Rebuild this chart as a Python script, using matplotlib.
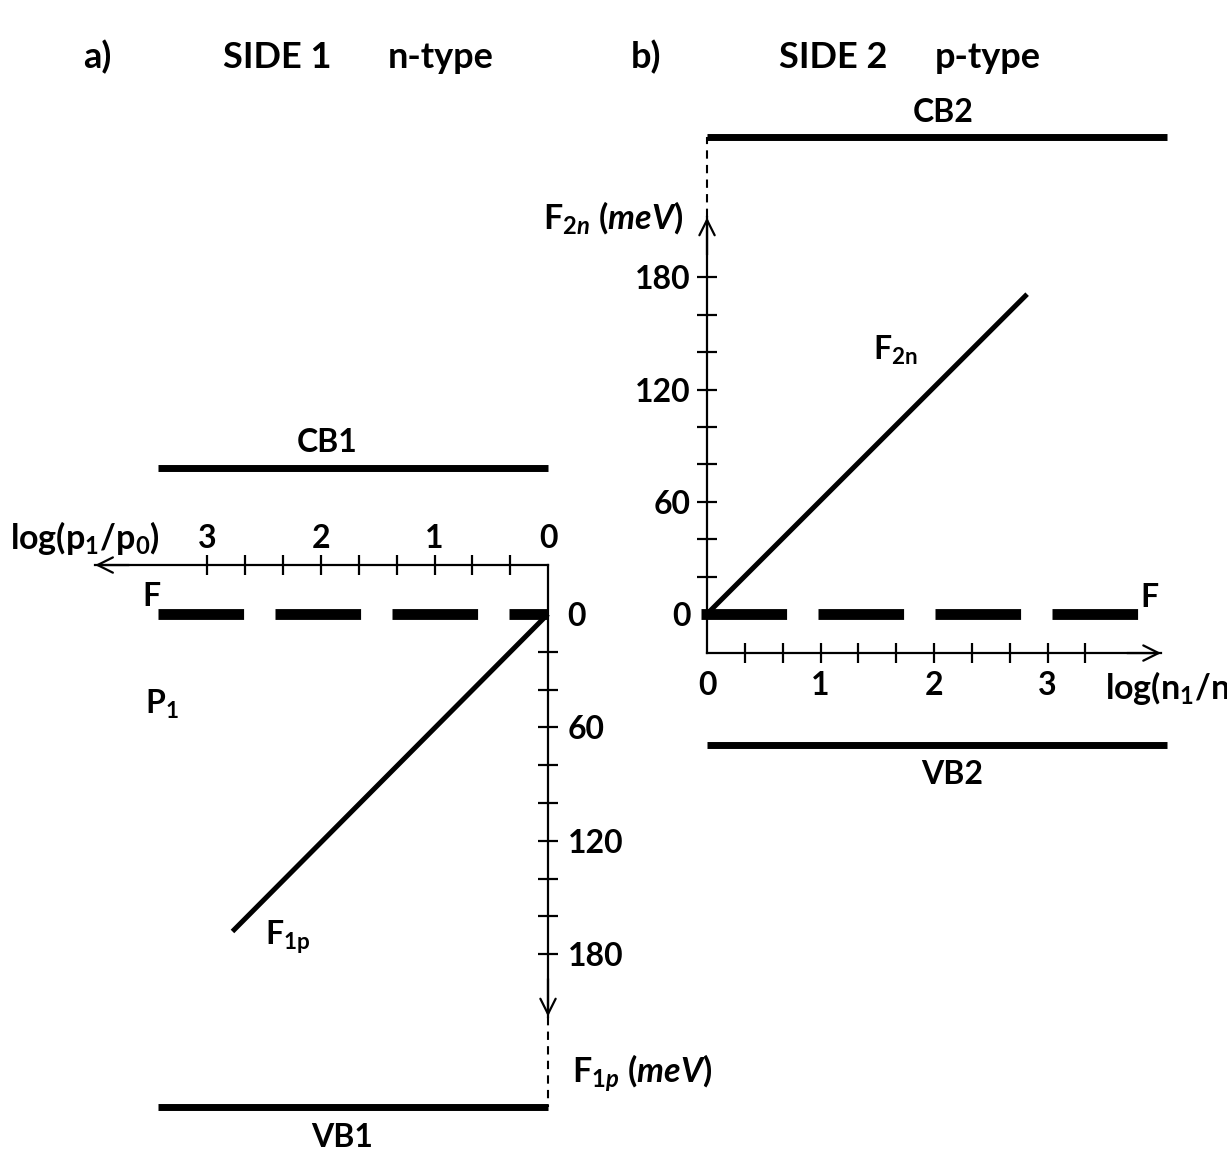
import matplotlib
matplotlib.use("Agg")
import matplotlib.pyplot as plt
import numpy as np

plt.rcParams['font.family'] = ['Lato', 'DejaVu Sans']
plt.rcParams['font.weight'] = 'bold'
plt.rcParams['mathtext.fontset'] = 'custom'
plt.rcParams['mathtext.rm'] = 'Lato:bold'
plt.rcParams['mathtext.it'] = 'Lato:bold:italic'
plt.rcParams['mathtext.bf'] = 'Lato:bold'

# ---------------- data ----------------
# Side 1 (n-type): quasi-Fermi level of holes vs log(p1/p0)
log_p = [0.0, 2.78]
F1p = [0.0, 168.0]
# Side 2 (p-type): quasi-Fermi level of electrons vs log(n1/n0)
log_n = [0.0, 2.82]
F2n = [0.0, 171.0]

# band edges (meV relative to F) and their extent in log units
CB1, VB1 = -77.0, 261.0
band1_extent = [0.0, 3.44]
CB2, VB2 = 255.0, -70.0
band2_extent = [0.0, 4.05]
F_level = 0.0
F1_extent = [3.44, 0.0]
F2_extent = [-0.05, 3.80]

# axes
x_major = [0, 1, 2, 3]
x_labels = ['0', '1', '2', '3']
y_major = [0, 60, 120, 180]
y_labels = ['0', '60', '120', '180']
y_minor = [20, 40, 80, 100, 140, 160]
xa_minor = [1/3, 2/3, 4/3, 5/3, 7/3, 8/3]
xb_minor = [1/3, 2/3, 4/3, 5/3, 7/3, 8/3, 10/3]

axA_y = -25.9      # position of log axis (panel a)
axA_xmax = 3.99
axA_ymax = 213.0
axB_y = -20.9
axB_xmax = 4.0
axB_ymax = 212.0

W, H = 1227, 1152
fig = plt.figure(figsize=(W / 100, H / 100), dpi=100)

LW_AX = 1.6
FS = 23
FS_T = 26
FS_TICK = 23
FS_LOG = 24.5
ARW = '->,head_length=1.1,head_width=0.55'
F_DASH = (0, (7.9, 2.9))

# ---------------- panel a ----------------
a = fig.add_axes([0, 0, 1, 1])
a.patch.set_alpha(0)
a.set_xlim(4.828, -5.982)
a.set_ylim(284.7, -324.9)
for s in ['left', 'bottom']:
    a.spines[s].set_visible(False)
a.spines['top'].set_position(('data', axA_y))
a.spines['top'].set_bounds(0, axA_xmax)
a.spines['right'].set_position(('data', 0))
a.spines['right'].set_bounds(axA_y, axA_ymax)
for s in ['top', 'right']:
    a.spines[s].set_linewidth(LW_AX)
a.xaxis.set_ticks_position('top')
a.yaxis.set_ticks_position('right')
a.set_xticks(x_major, x_labels)
a.set_xticks(xa_minor, minor=True)
a.set_yticks(y_major, y_labels)
a.set_yticks(y_minor, minor=True)
a.tick_params(axis='both', which='both', direction='inout', length=14, width=LW_AX,
              labelsize=FS_TICK)
a.tick_params(axis='x', which='major', pad=2)
a.tick_params(axis='y', which='major', pad=7)
a.xaxis.get_major_ticks()[0].tick2line.set_visible(False)
a.yaxis.get_major_ticks()[0].tick2line.set_visible(False)
for lab in a.get_xticklabels() + a.get_yticklabels():
    lab.set_fontweight('bold')

# arrow heads
a.annotate('', xy=(axA_xmax, axA_y), xytext=(axA_xmax - 0.3, axA_y),
           arrowprops=dict(arrowstyle=ARW, lw=LW_AX, shrinkA=0, shrinkB=0))
a.annotate('', xy=(0, axA_ymax), xytext=(0, axA_ymax - 20),
           arrowprops=dict(arrowstyle=ARW, lw=LW_AX, shrinkA=0, shrinkB=0))
a.plot([0, 0], [axA_ymax, VB1], color='black', lw=1.5, ls=(0, (4, 3)))

a.plot(band1_extent, [CB1, CB1], color='black', lw=5, solid_capstyle='butt')
a.plot(band1_extent, [VB1, VB1], color='black', lw=5, solid_capstyle='butt')
a.plot(F1_extent, [F_level, F_level], color='black', lw=7.8, ls=F_DASH,
       dash_capstyle='butt')
a.plot(log_p, F1p, color='black', lw=3.6, solid_capstyle='butt')

a.text(1.947, -91, 'CB1', ha='center', va='center', fontsize=FS, fontweight='bold')
a.text(1.815, 277, 'VB1', ha='center', va='center', fontsize=FS, fontweight='bold')
a.text(4.74, -40.0, r'log(p$_{\mathregular{1}}$/p$_{\mathregular{0}}$)', ha='left', va='center',
       fontsize=FS_LOG, fontweight='bold')
a.text(3.49, -9, 'F', ha='center', va='center', fontsize=FS, fontweight='bold')
a.text(3.40, 48, r'P$_{\mathregular{1}}$', ha='center', va='center', fontsize=FS, fontweight='bold')
a.text(2.29, 171, r'F$_{\mathregular{1p}}$', ha='center', va='center', fontsize=FS, fontweight='bold')
a.text(-0.21, 243, r'F$_{\mathit{1p}}$ $\mathit{(meV)}$', ha='left', va='center', fontsize=FS_LOG,
       fontweight='bold')

# ---------------- panel b ----------------
b = fig.add_axes([0, 0, 1, 1])
b.patch.set_alpha(0)
b.set_xlim(-6.229, 4.581)
b.set_ylim(-287.7, 328.3)
for s in ['right', 'top']:
    b.spines[s].set_visible(False)
b.spines['bottom'].set_position(('data', axB_y))
b.spines['bottom'].set_bounds(0, axB_xmax)
b.spines['left'].set_position(('data', 0))
b.spines['left'].set_bounds(axB_y, axB_ymax)
for s in ['bottom', 'left']:
    b.spines[s].set_linewidth(LW_AX)
b.set_xticks(x_major, x_labels)
b.set_xticks(xb_minor, minor=True)
b.set_yticks(y_major, y_labels)
b.set_yticks(y_minor, minor=True)
b.tick_params(axis='both', which='both', direction='inout', length=14, width=LW_AX,
              labelsize=FS_TICK)
b.tick_params(axis='x', which='major', pad=6)
b.tick_params(axis='y', which='major', pad=5)
b.xaxis.get_major_ticks()[0].tick1line.set_visible(False)
b.yaxis.get_major_ticks()[0].tick1line.set_visible(False)
for lab in b.get_xticklabels() + b.get_yticklabels():
    lab.set_fontweight('bold')

b.annotate('', xy=(axB_xmax, axB_y), xytext=(axB_xmax - 0.3, axB_y),
           arrowprops=dict(arrowstyle=ARW, lw=LW_AX, shrinkA=0, shrinkB=0))
b.annotate('', xy=(0, axB_ymax), xytext=(0, axB_ymax - 20),
           arrowprops=dict(arrowstyle=ARW, lw=LW_AX, shrinkA=0, shrinkB=0))
b.plot([0, 0], [axB_ymax, CB2], color='black', lw=1.5, ls=(0, (4, 3)))

b.plot(band2_extent, [CB2, CB2], color='black', lw=5, solid_capstyle='butt')
b.plot(band2_extent, [VB2, VB2], color='black', lw=5, solid_capstyle='butt')
b.plot(F2_extent, [F_level, F_level], color='black', lw=7.8, ls=F_DASH,
       dash_capstyle='butt')
b.plot(log_n, F2n, color='black', lw=3.6, solid_capstyle='butt')

b.text(2.08, 268, 'CB2', ha='center', va='center', fontsize=FS, fontweight='bold')
b.text(2.16, -86, 'VB2', ha='center', va='center', fontsize=FS, fontweight='bold')
b.text(-0.21, 212, r'F$_{\mathit{2n}}$ $\mathit{(meV)}$', ha='right', va='center', fontsize=FS_LOG,
       fontweight='bold')
b.text(1.656, 141, r'F$_{\mathregular{2n}}$', ha='center', va='center', fontsize=FS,
       fontweight='bold')
b.text(3.90, 9, 'F', ha='center', va='center', fontsize=FS, fontweight='bold')
b.text(3.51, -39.5, r'log(n$_{\mathregular{1}}$/n$_{\mathregular{0}}$)', ha='left', va='center',
       fontsize=FS_LOG, fontweight='bold')

# ---------------- titles ----------------
for txt, px in [('a)', 97), ('SIDE 1', 277), ('n-type', 441),
                ('b)', 646), ('SIDE 2', 833), ('p-type', 988)]:
    fig.text(px / W, 1 - 57 / H, txt, ha='center', va='center', fontsize=FS_T, fontweight='bold')

fig.savefig('out.png', dpi=100)
